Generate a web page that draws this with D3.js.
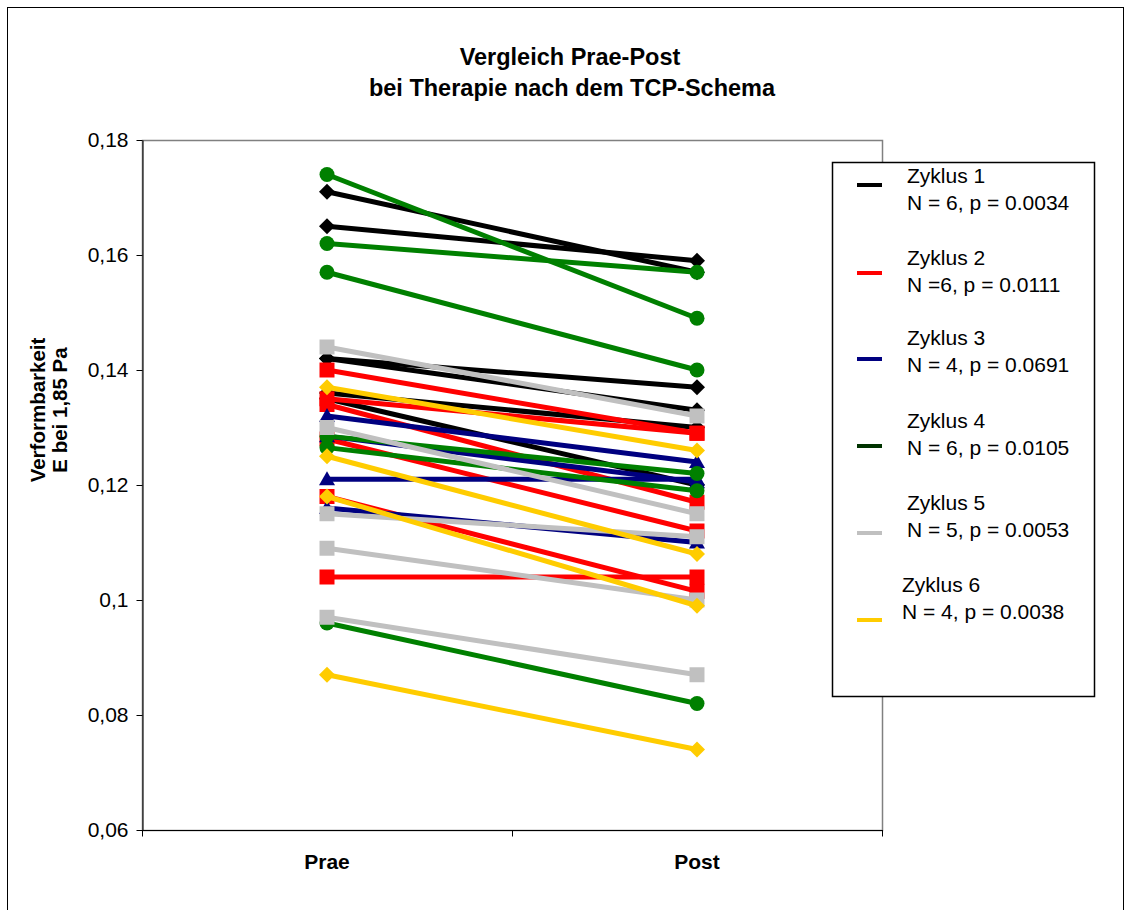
<!DOCTYPE html>
<html>
<head>
<meta charset="utf-8">
<script src="https://cdn.jsdelivr.net/npm/d3@7"></script>
<style>
  html, body { margin: 0; padding: 0; background: #fff; }
  svg { display: block; font-family: Arial, "Liberation Sans", sans-serif; }
</style>
</head>
<body>
<svg id="chart" width="1131" height="910"></svg>
<script>
// Measurement time points
const categories = ["Prae", "Post"];
const yTicks = [0.06, 0.08, 0.10, 0.12, 0.14, 0.16, 0.18];
const yTickLabels = ["0,06", "0,08", "0,1", "0,12", "0,14", "0,16", "0,18"];

// Each pair: [Prae, Post] for one patient
const zyklus1 = [[0.171, 0.157], [0.165, 0.159], [0.142, 0.137], [0.142, 0.133], [0.136, 0.130], [0.135, 0.120]];
const zyklus2 = [[0.140, 0.129], [0.135, 0.129], [0.134, 0.117], [0.128, 0.112], [0.118, 0.1015], [0.104, 0.104]];
const zyklus3 = [[0.132, 0.124], [0.1285, 0.1205], [0.121, 0.121], [0.116, 0.110]];
const zyklus4 = [[0.174, 0.149], [0.162, 0.157], [0.157, 0.140], [0.1285, 0.122], [0.1265, 0.119], [0.096, 0.082]];
const zyklus5 = [[0.144, 0.132], [0.130, 0.115], [0.115, 0.111], [0.109, 0.100], [0.097, 0.087]];
const zyklus6 = [[0.137, 0.126], [0.125, 0.108], [0.118, 0.099], [0.087, 0.074]];

const seriesNames = ["Zyklus 1", "Zyklus 2", "Zyklus 3", "Zyklus 4", "Zyklus 5", "Zyklus 6"];
const seriesStats = ["N = 6, p = 0.0034", "N =6, p = 0.0111", "N = 4, p = 0.0691",
                     "N = 6, p = 0.0105", "N = 5, p = 0.0053", "N = 4, p = 0.0038"];
const seriesData = [zyklus1, zyklus2, zyklus3, zyklus4, zyklus5, zyklus6];
const seriesColors = ["#000000", "#ff0000", "#000080", "#008000", "#c0c0c0", "#ffcc00"];
const legendColors = ["#000000", "#ff0000", "#000080", "#003300", "#c0c0c0", "#ffcc00"];
const seriesMarkers = ["diamond", "square", "triangle", "circle", "square", "diamond"];

const svg = d3.select("#chart");

// Outer chart frame
svg.append("rect")
  .attr("x", 7.5).attr("y", 7.5)
  .attr("width", 1116).attr("height", 930)
  .attr("fill", "#fff").attr("stroke", "#000").attr("stroke-width", 1);

const plot = { left: 142, top: 140, right: 882, bottom: 830 };

const x = d3.scaleBand().domain(categories).range([plot.left, plot.right]).padding(0);
const y = d3.scaleLinear().domain([0.06, 0.18]).range([plot.bottom, plot.top]);

// Plot area border
svg.append("rect")
  .attr("x", plot.left + 0.5).attr("y", plot.top + 0.5)
  .attr("width", plot.right - plot.left).attr("height", plot.bottom - plot.top)
  .attr("fill", "none").attr("stroke", "#808080").attr("stroke-width", 1.5);

// Y axis
const yAxis = d3.axisLeft(y)
  .tickValues(yTicks)
  .tickFormat((d, i) => yTickLabels[i])
  .tickSizeOuter(0).tickSizeInner(6).tickPadding(8);
const yg = svg.append("g").attr("transform", `translate(${plot.left + 0.5},0)`).call(yAxis);
yg.selectAll("path.domain").attr("stroke", "#000").attr("stroke-width", 1);
yg.selectAll(".tick line").attr("stroke", "#000");
yg.selectAll(".tick text").attr("font-size", 21).attr("fill", "#000")
  .attr("font-family", "Arial, 'Liberation Sans', sans-serif");

// X axis: tick marks between categories, labels centred on them
const xAxisG = svg.append("g").attr("transform", `translate(0,${plot.bottom + 0.5})`);
xAxisG.append("line")
  .attr("x1", plot.left).attr("x2", plot.right + 1)
  .attr("stroke", "#000").attr("stroke-width", 1);
const bounds = [plot.left, ...categories.map(c => x(c) + x.bandwidth())];
xAxisG.selectAll("line.tk").data(bounds).join("line")
  .attr("class", "tk")
  .attr("x1", d => Math.round(d) + 0.5).attr("x2", d => Math.round(d) + 0.5)
  .attr("y1", 0).attr("y2", 6)
  .attr("stroke", "#000");
xAxisG.selectAll("text").data(categories).join("text")
  .attr("x", d => x(d) + x.bandwidth() / 2)
  .attr("y", 38)
  .attr("text-anchor", "middle")
  .attr("font-size", 21).attr("font-weight", "bold")
  .text(d => d);

// Marker shapes
function markerPath(type) {
  switch (type) {
    case "diamond": return "M0,-8L8,0L0,8L-8,0Z";
    case "square": return "M-7.5,-7.5H7.5V7.5H-7.5Z";
    case "triangle": return "M0,-8L8,6L-8,6Z";
    default: return d3.symbol().type(d3.symbolCircle).size(Math.PI * 7.5 * 7.5)();
  }
}

const cx = c => x(c) + x.bandwidth() / 2;

// Series drawn in order: lines, then markers of each series
seriesData.forEach((rows, si) => {
  const g = svg.append("g");
  g.selectAll("line").data(rows).join("line")
    .attr("x1", cx(categories[0])).attr("y1", d => y(d[0]))
    .attr("x2", cx(categories[1])).attr("y2", d => y(d[1]))
    .attr("stroke", seriesColors[si]).attr("stroke-width", 5);
  const pts = rows.flatMap(d => [[categories[0], d[0]], [categories[1], d[1]]]);
  g.selectAll("path").data(pts).join("path")
    .attr("d", markerPath(seriesMarkers[si]))
    .attr("transform", d => `translate(${cx(d[0])},${y(d[1])})`)
    .attr("fill", seriesColors[si]);
});

// Title
const title = svg.append("text")
  .attr("text-anchor", "middle")
  .attr("font-size", 23.5).attr("font-weight", "bold");
title.append("tspan").attr("x", 570).attr("y", 65).text("Vergleich Prae-Post");
title.append("tspan").attr("x", 572).attr("y", 96).text("bei Therapie nach dem TCP-Schema");

// Y axis title
const yt = svg.append("text")
  .attr("transform", "translate(0,410) rotate(-90)")
  .attr("text-anchor", "middle")
  .attr("font-size", 20.5).attr("font-weight", "bold");
yt.append("tspan").attr("x", 0).attr("y", 45).text("Verformbarkeit");
yt.append("tspan").attr("x", 0).attr("y", 67).text("E bei 1,85 Pa");

// Legend
const legend = svg.append("g");
legend.append("rect")
  .attr("x", 832.5).attr("y", 162.5).attr("width", 262).attr("height", 534)
  .attr("fill", "#fff").attr("stroke", "#000").attr("stroke-width", 1.5);
const legendTop = [183, 265, 345, 428, 510, 592];
const legendLineY = [185, 273, 359, 446, 533, 620];
const legendTextX = [907, 907, 907, 907, 907, 902];
seriesNames.forEach((name, i) => {
  legend.append("line")
    .attr("x1", 857).attr("x2", 882)
    .attr("y1", legendLineY[i]).attr("y2", legendLineY[i])
    .attr("stroke", legendColors[i]).attr("stroke-width", 4);
  legend.append("text").attr("x", legendTextX[i]).attr("y", legendTop[i])
    .attr("font-size", 21).text(name);
  legend.append("text").attr("x", legendTextX[i]).attr("y", legendTop[i] + 27)
    .attr("font-size", 21).text(seriesStats[i]);
});
</script>
</body>
</html>
